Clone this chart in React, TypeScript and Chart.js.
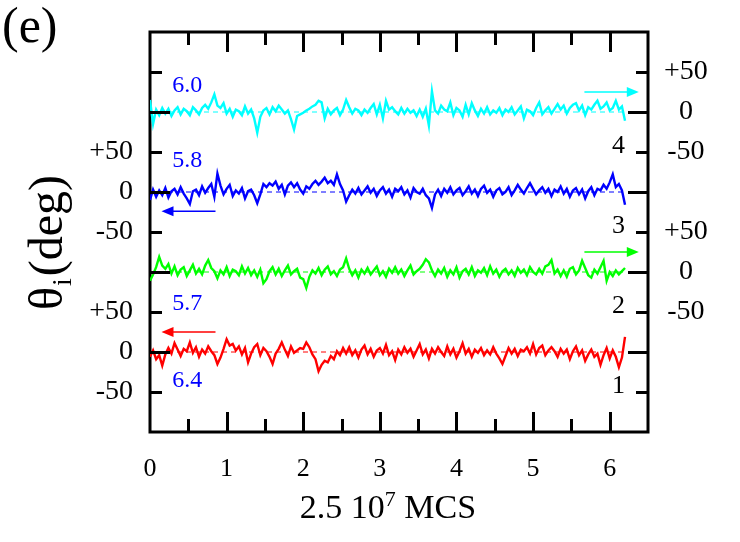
import React, { useEffect, useRef } from 'react';
import { Chart, registerables } from 'chart.js';

Chart.register(...registerables);

// time step between samples (units of 2.5 10^7 MCS)
const tStep = 0.04;

// deviation angles (deg) of each trace
const redTheta = [
  -6, 2, -9, -4, -17, -3, 5, -2, 11, 3,
  -5, 4, 1, 12, -1, 6, -6, 3, -2, 7,
  1, -4, -15, -7, 4, 16, 8, 10, 2, 7,
  -3, 5, -13, -2, 6, 10, -4, 5, 1, -6,
  -15, -2, 4, 12, 3, -5, 7, -1, 2, 5,
  4, 12, 6, -3, -9, -24, -16, -11, -13, -5,
  -9, 1, -4, 5, -2, 6, -4, 2, -7, 3,
  8, -3, 4, -6, 2, 5, -2, 9, -4, 1,
  -10, 3, -3, 6, -1, 4, -6, 2, 10, -3,
  3, -8, 4, -2, 6, 0, -5, 7, -3, 4,
  -7, 1, 11, -2, 4, -6, 3, -1, 5, -4,
  2, -3, 6, -2, -8, -15, -5, 5, -2, 4,
  -5, 3, 1, 6, -2, 10, -3, 5, 8, -4,
  2, 6, 1, -6, 4, -2, 3, -9, 1, 7,
  -4, 2, -11, -3, 3, -6, -2, -16, -4, 5,
  -8, 2, -6, -19, -7, 19,
];
const greenTheta = [
  -11, -3, 6, 19, 8, 4, 10, -2, 7, -4,
  3, 6, -5, 2, 9, -2, 4, -3, 8, 15,
  5, 1, -8, 2, -3, 6, -5, 3, 1, -4,
  7, -2, 5, -4, 2, -6, 3, -14, -9, 1,
  6, -3, 4, -5, 2, 8, -3, 1, 4, -7,
  -9, -20, -6, 2, -2, 5, -4, 3, 7, -3,
  1, -5, 3, 6, 17, 4, -4, 2, -7, 3,
  -2, 5, -3, 2, 7, -4, 1, -6, 4, -1,
  6, -2, 3, -5, 2, 8, -3, 1, 4, 9,
  16, 12, 2, -5, 3, -2, 5, -6, 2, -3,
  6, -7, 1, 4, -3, 6, -5, 2, -1, 5,
  -4, 7, -2, 3, -6, 1, 4, -3, 2, -5,
  5, -1, 3, -4, 6, 0, -3, 4, -2, 7,
  9, 15, -2, 3, -5, 2, -6, 4, 6, -3,
  2, 14, 5, -4, -7, 3, -2, 6, 14, -11,
  0, -5, 2, -3, 1, 5,
];
const blueTheta = [
  -10, 3, -6, 2, -4, 5, -7, 1, 4, -3,
  6, -2, -8, -15, 1, 3, -4, 7, -1, 5,
  10, -6, 23, 8, -3, 4, 9, -5, 2, -2,
  5, -8, 1, 3, -4, -14, -3, 10, 6, 11,
  8, 13, 4, 9, -3, 8, 12, 6, 11, 3,
  -2, 7, 4, 10, 14, 9, 13, 18, 11, 14,
  9, 22, 10, 2, -12, -4, 3, -2, 5, -3,
  2, 7, -1, 4, -5, 2, 6, -2, 3, -6,
  4, 1, 6, -3, 2, -7, 5, 0, -2, 4,
  -4, -8, -20, -3, 3, -5, 4, -1, 6, -3,
  2, 5, -4, 1, 7, -2, 3, -5, 4, 8,
  -1, 3, -6, 2, 5, -3, 0, 6, -4, 2,
  9, 3, -2, 5, 11, 4, -3, 2, 6, -1,
  4, -5, 3, 0, 7, -2, 4, -6, 2, 5,
  -3, 3, -8, 1, 6, -4, 4, 2, 9, 4,
  12, 22, 6, 10, 2, -16,
];
const cyanTheta = [
  15, -15, 3, -4, 5, -2, 4, -5, 2, 6,
  -3, 4, 1, -4, 6, 2, -3, 5, 9, 4,
  12, 22, 8, 5, 11, -2, 4, -6, 3, 1,
  -4, 7, -2, 3, -8, -26, -6, 2, 5, -3,
  6, 1, 8, 3, -2, 2, -9, -22, -5, -3,
  -1, 2, 4, 7, 9, 14, 12, -8, 4, -3,
  2, 5, -4, 3, 15, 6, -2, 4, 2, -4,
  3, -1, 5, 10, -3, 9, -8, 14, 3, 6,
  1, -3, 5, -2, 4, -1, 2, -5, 3, -6,
  4, -17, 26, 2, -2, 8, 3, 1, 12, -4,
  5, 2, -6, 9, -3, 11, 2, -5, 4, -2,
  6, -3, 2, -1, 5, -4, 3, 0, 6, -3,
  2, 7, -8, 3, 1, -4, 5, 12, -3, 2,
  6, -2, 4, 10, 3, 8, -2, 5, 9, 11,
  2, 8, -4, 6, 3, 9, 14, 4, 7, 12,
  2, 5, 14, 3, 7, -11,
];

const traceSeries = [redTheta, greenTheta, blueTheta, cyanTheta];
const traceOffsets = [0, 100, 200, 300];
const traceColors = ['#ff0000', '#00ff00', '#0000ff', '#00ffff'];
const traceEnd = 6.2;

const xTickValues = [0, 0.5, 1, 1.5, 2, 2.5, 3, 3.5, 4, 4.5, 5, 5.5, 6, 6.5];
const yTickValues = [-50, 0, 50, 100, 150, 200, 250, 300, 350];
const leftTickLabels: Record<string, string> = { '-50': '-50', '0': '0', '50': '+50', '150': '-50', '200': '0', '250': '+50' };
const rightTickLabels: Record<string, string> = { '50': '-50', '100': '0', '150': '+50', '250': '-50', '300': '0', '350': '+50' };

const ratioLabels = ['6.4', '5.7', '5.8', '6.0'];
const ratioLabelY = [-44, 52, 231, 325];
const traceNumbers = ['1', '2', '3', '4'];
const traceNumberY = [-50, 50, 150, 250];
const arrowY = [25, 125, 176, 325];
const arrowFrom = [0.855, 5.67, 0.855, 5.67];
const arrowTo = [0.15, 6.38, 0.15, 6.38];

const SERIF = '"Liberation Serif", "Times New Roman", serif';

export default function App() {
  const ref = useRef<HTMLCanvasElement | null>(null);

  useEffect(() => {
    if (!ref.current) return;

    const datasets: any[] = [];
    traceSeries.forEach((vals, k) => {
      datasets.push({
        data: vals.map((v, i) => ({ x: i * tStep, y: v + traceOffsets[k] })),
        borderColor: traceColors[k],
        borderWidth: 2.4,
        pointRadius: 0,
        tension: 0,
        yAxisID: 'yL',
        order: 0,
      });
    });
    traceOffsets.forEach((off, k) => {
      datasets.push({
        data: [{ x: 0, y: off }, { x: traceEnd, y: off }],
        borderColor: traceColors[k],
        borderWidth: 1,
        borderDash: [5, 4],
        pointRadius: 0,
        yAxisID: 'yL',
        order: 1,
      });
    });

    const framePlugin = {
      id: 'frame',
      beforeDatasetsDraw(chart: any) {
        const { ctx, chartArea: a } = chart;
        ctx.save();
        ctx.strokeStyle = '#000';
        ctx.lineWidth = 3;
        ctx.strokeRect(a.left, a.top, a.right - a.left, a.bottom - a.top);
        ctx.restore();
      },
      afterDatasetsDraw(chart: any) {
        const { ctx, chartArea: a } = chart;
        const xs = chart.scales.x;
        const ys = chart.scales.yL;
        ctx.save();
        ctx.strokeStyle = '#000';
        ctx.lineWidth = 3;
        ctx.beginPath();
        xTickValues.forEach((v) => {
          if (v <= 0 || v >= 6.5) return;
          const px = Math.round(xs.getPixelForValue(v)) + 0.5;
          const len = Number.isInteger(v) ? 20 : 13;
          ctx.moveTo(px, a.bottom);
          ctx.lineTo(px, a.bottom - len);
          ctx.moveTo(px, a.top);
          ctx.lineTo(px, a.top + len);
        });
        yTickValues.forEach((v) => {
          const py = Math.round(ys.getPixelForValue(v)) + 0.5;
          const len = traceOffsets.includes(v) ? 20 : 12;
          ctx.moveTo(a.left, py);
          ctx.lineTo(a.left + len, py);
          ctx.moveTo(a.right, py);
          ctx.lineTo(a.right - len, py);
        });
        ctx.stroke();

        // arrows
        arrowY.forEach((yv, k) => {
          const py = ys.getPixelForValue(yv);
          const x0 = xs.getPixelForValue(arrowFrom[k]);
          const x1 = xs.getPixelForValue(arrowTo[k]);
          const dir = Math.sign(x1 - x0);
          ctx.strokeStyle = traceColors[k];
          ctx.fillStyle = traceColors[k];
          ctx.lineWidth = 1.5;
          ctx.beginPath();
          ctx.moveTo(x0, py);
          ctx.lineTo(x1 - dir * 8, py);
          ctx.stroke();
          ctx.beginPath();
          ctx.moveTo(x1, py);
          ctx.lineTo(x1 - dir * 12, py - 5);
          ctx.lineTo(x1 - dir * 12, py + 5);
          ctx.closePath();
          ctx.fill();
        });

        // ratio labels
        ctx.fillStyle = '#0000ff';
        ctx.font = `24px ${SERIF}`;
        ctx.textAlign = 'left';
        ctx.textBaseline = 'alphabetic';
        ratioLabels.forEach((t, k) => {
          ctx.fillText(t, xs.getPixelForValue(0.29), ys.getPixelForValue(ratioLabelY[k]));
        });
        // trace numbers
        ctx.fillStyle = '#000';
        ctx.font = `26px ${SERIF}`;
        traceNumbers.forEach((t, k) => {
          ctx.fillText(t, xs.getPixelForValue(6.03), ys.getPixelForValue(traceNumberY[k]) + 1);
        });

        // panel label
        ctx.font = `50px ${SERIF}`;
        ctx.fillText('(e)', 2, 42);

        // x title with superscript
        const p1 = '2.5 10';
        const p2 = '7';
        const p3 = ' MCS';
        ctx.font = `34px ${SERIF}`;
        const w1 = ctx.measureText(p1).width;
        const w3 = ctx.measureText(p3).width;
        ctx.font = `22px ${SERIF}`;
        const w2 = ctx.measureText(p2).width;
        const total = w1 + w2 + w3;
        let x = 388 - total / 2;
        ctx.font = `34px ${SERIF}`;
        ctx.fillText(p1, x, 518);
        x += w1;
        ctx.font = `22px ${SERIF}`;
        ctx.fillText(p2, x, 506);
        x += w2;
        ctx.font = `34px ${SERIF}`;
        ctx.fillText(p3, x, 518);

        // y title rotated
        ctx.save();
        ctx.translate(62, 310);
        ctx.rotate(-Math.PI / 2);
        ctx.font = `48px ${SERIF}`;
        ctx.fillText('θ', 0, 0);
        const wt = ctx.measureText('θ').width;
        ctx.font = `28px ${SERIF}`;
        ctx.fillText('i', wt + 1, 9);
        const wi = ctx.measureText('i').width;
        ctx.font = `48px ${SERIF}`;
        ctx.fillText('(deg)', wt + wi + 3, 0);
        ctx.restore();

        ctx.restore();
      },
    };

    const chart = new Chart(ref.current, {
      type: 'line',
      data: { datasets },
      options: {
        animation: false,
        responsive: false,
        devicePixelRatio: 1,
        layout: { padding: { top: 32, left: 0, right: 0, bottom: 0 } },
        plugins: { legend: { display: false }, tooltip: { enabled: false } },
        scales: {
          x: {
            type: 'linear',
            position: 'bottom',
            min: 0,
            max: 6.5,
            afterBuildTicks: (s: any) => {
              s.ticks = xTickValues.map((v) => ({ value: v }));
            },
            afterFit: (s: any) => {
              s.height = 110;
            },
            grid: { display: false },
            border: { display: false },
            ticks: {
              autoSkip: false,
              maxRotation: 0,
              padding: 14,
              color: '#000',
              font: { family: SERIF, size: 26 },
              callback: (v: any) => (Number.isInteger(v) ? String(v) : ''),
            },
          },
          yL: {
            type: 'linear',
            position: 'left',
            min: -100,
            max: 400,
            afterBuildTicks: (s: any) => {
              s.ticks = yTickValues.map((v) => ({ value: v }));
            },
            afterFit: (s: any) => {
              s.width = 150;
            },
            grid: { display: false },
            border: { display: false },
            ticks: {
              padding: 9,
              color: '#000',
              font: { family: SERIF, size: 28 },
              callback: (v: any) => leftTickLabels[String(v)] ?? '',
            },
          },
          yR: {
            type: 'linear',
            position: 'right',
            min: -100,
            max: 400,
            afterBuildTicks: (s: any) => {
              s.ticks = yTickValues.map((v) => ({ value: v }));
            },
            afterFit: (s: any) => {
              s.width = 92;
            },
            grid: { display: false },
            border: { display: false },
            ticks: {
              padding: 8,
              crossAlign: 'center',
              color: '#000',
              font: { family: SERIF, size: 28 },
              callback: (v: any) => rightTickLabels[String(v)] ?? '',
            },
          },
        },
      } as any,
      plugins: [framePlugin],
    });

    return () => chart.destroy();
  }, []);

  return (
    <div style={{ position: 'absolute', left: 0, top: 0, width: 740, height: 542, background: '#fff' }}>
      <canvas ref={ref} width={740} height={542} />
    </div>
  );
}
